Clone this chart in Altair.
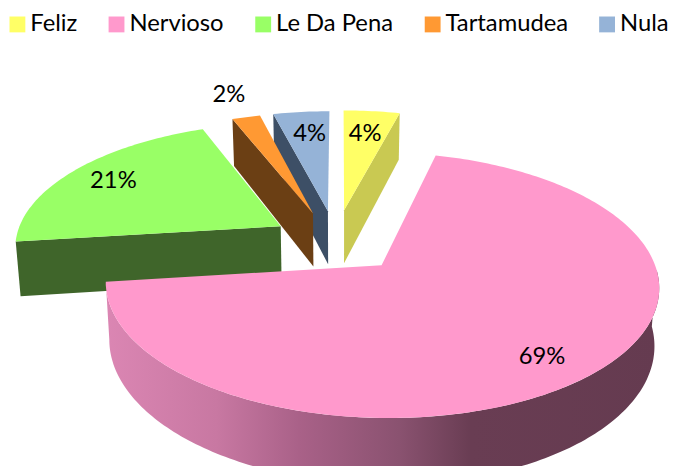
import math
import altair as alt
import pandas as pd

# --- chart values
categories = ["Feliz", "Nervioso", "Le Da Pena", "Tartamudea", "Nula"]
shares = [4, 69, 21, 2, 4]
top_colors = ["#FFFF66", "#FF99CC", "#99FF66", "#FF9933", "#95B3D7"]
wall_colors = ["#C9C952", "#A86088", "#3F652A", "#6B3F14", "#3D4F66"]

# --- look of the 3-D pie (explosion of each slice in the pie's plane, label radius and turn)
explode_x = [0.016, 0.152, -0.227, -0.105, -0.047]
explode_z = [0.452, 0.0, 0.314, 0.425, 0.443]
label_rho = [0.74, 0.82, 0.80, 1.27, 0.75]
label_turn = [0.0, 2.4, -0.3, -0.4, 0.8]
VX, VY = 335, 257.5          # pivot in plot pixels
AX, BZ, P = 276, 131, 0.15   # ellipse radii and perspective
DEPTH, SHRINK = 57, 0.985    # wall height and narrowing toward the bottom
FONT = "Lato"
PROJ = dict(type="identity", scale=1, translate=[0, 0])


def project(X, Z, bottom=False):
    w = 1 + P * Z
    x = AX * X / w
    y = -BZ * Z / w
    if bottom:
        x *= SHRINK
        y += DEPTH / w
    return [VX + x, VY + y]


def rim(i, deg, bottom=False):
    t = math.radians(deg)
    return project(explode_x[i] + math.sin(t), explode_z[i] + math.cos(t), bottom)


def apex(i, bottom=False):
    return project(explode_x[i], explode_z[i], bottom)


def degs(a, b):
    n = max(2, int(abs(b - a)) + 1)
    return [a + (b - a) * k / (n - 1) for k in range(n)]


def feature(label, ring):
    ring = ring + [ring[0]]
    return {"type": "Feature", "label": label,
            "geometry": {"type": "Polygon", "coordinates": [ring]}}


# slice start and end angles, clockwise from the top
total = sum(shares)
starts, ends = [], []
acc = 0
for s in shares:
    starts.append(acc / total * 360)
    acc += s
    ends.append(acc / total * 360)

color_scale = alt.Scale(domain=categories, range=top_colors)
legend = alt.Legend(
    title=None, orient="none", legendX=-2.5, legendY=2.5, direction="horizontal", columns=5,
    symbolType="M-1,-1H1V1H-1Z", symbolSize=256, symbolStrokeWidth=0, symbolOpacity=1,
    labelFont=FONT, labelFontSize=24, labelColor="#000000", labelOffset=1,
    columnPadding=27, padding=0, labelLimit=300,
)


def top_layer(i):
    a, b = starts[i], ends[i]
    ring = [apex(i)] + [rim(i, d) for d in degs(a, b)]
    return alt.Chart(alt.Data(values=[feature(categories[i], ring)])).mark_geoshape(
        strokeWidth=0).encode(
        color=alt.Color("label:N", scale=color_scale, legend=legend)
    ).project(**PROJ)


def plain_wall(i, deg):
    # flat wall along one straight edge of the slice
    ring = [apex(i), rim(i, deg), rim(i, deg, True), apex(i, True)]
    return alt.Chart(alt.Data(values=[feature(categories[i], ring)])).mark_geoshape(
        fill=wall_colors[i], strokeWidth=0).project(**PROJ)


def outer_wall(i, a, b):
    ds = degs(a, b)
    ring = [rim(i, d) for d in ds] + [rim(i, d, True) for d in reversed(ds)]
    gradient = alt.LinearGradient(
        gradient="linear", x1=0, x2=1, y1=0, y2=0,
        stops=[
            alt.GradientStop(offset=0.0, color="#DB86B3"),
            alt.GradientStop(offset=0.2, color="#C878A2"),
            alt.GradientStop(offset=0.35, color="#A96188"),
            alt.GradientStop(offset=0.53, color="#8A5270"),
            alt.GradientStop(offset=0.66, color="#693D53"),
            alt.GradientStop(offset=1.0, color="#653B50"),
        ],
    )
    return alt.Chart(alt.Data(values=[feature(categories[i], ring)])).mark_geoshape(
        fill=gradient, strokeWidth=0).project(**PROJ)


F, N, G, T, U = range(5)
layers = [
    plain_wall(U, starts[U]), top_layer(U),
    plain_wall(T, starts[T]), top_layer(T),
    plain_wall(F, ends[F]), top_layer(F),
    plain_wall(G, starts[G]), top_layer(G),
    outer_wall(N, 92, ends[N]), top_layer(N),
]

lon, lat, txt = [], [], []
for i, s in enumerate(shares):
    mid = math.radians((starts[i] + ends[i]) / 2 + label_turn[i])
    p = project(explode_x[i] + label_rho[i] * math.sin(mid),
                explode_z[i] + label_rho[i] * math.cos(mid))
    lon.append(p[0])
    lat.append(p[1])
    txt.append(f"{s}%")

labels = alt.Chart(pd.DataFrame({"lon": lon, "lat": lat, "txt": txt})).mark_text(
    font=FONT, fontSize=24, color="#000000", align="center", baseline="middle"
).encode(longitude="lon:Q", latitude="lat:Q", text="txt:N").project(**PROJ)

chart = alt.layer(*layers, labels).properties(
    width=668, height=460, padding=0, background="#FFFFFF",
    autosize=alt.AutoSizeParams(type="none"),
).configure_view(strokeWidth=0)

chart.save("out.html", embed_options={"renderer": "svg", "actions": False})
